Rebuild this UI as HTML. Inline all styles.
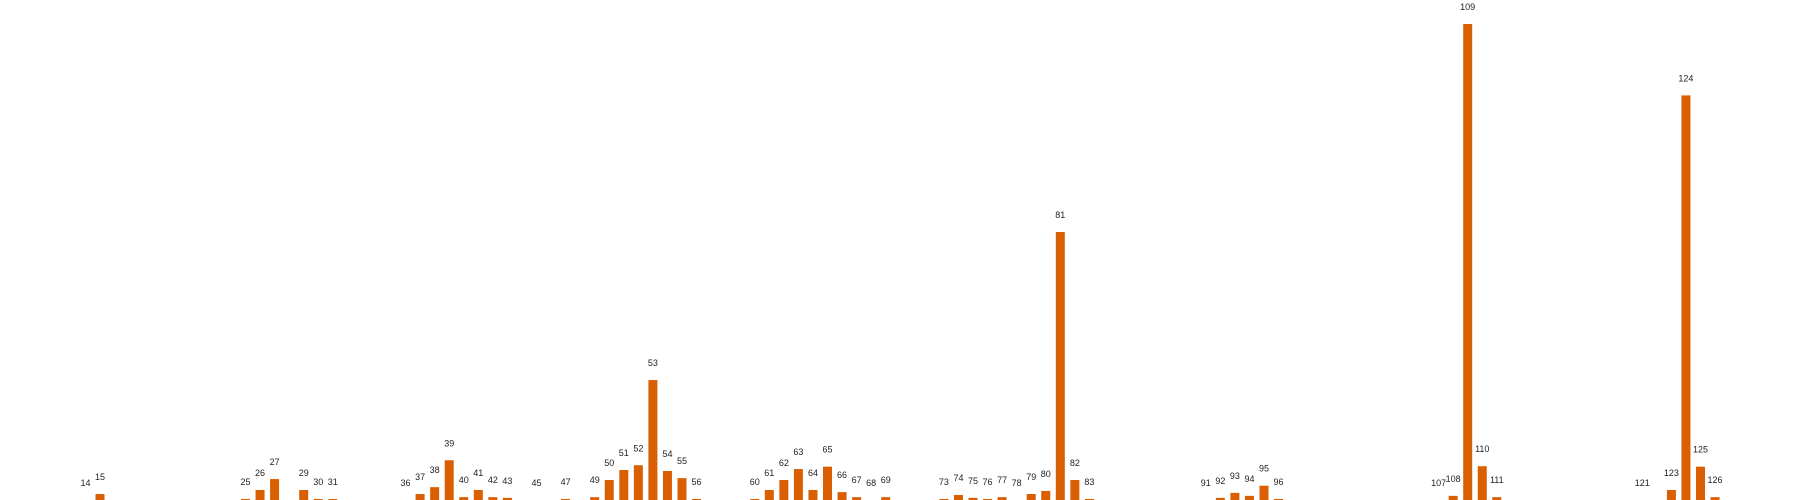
<!DOCTYPE html>
<html><head><meta charset="utf-8"><style>
html,body{margin:0;padding:0;background:#fff;}
svg{display:block;}
text{font-family:"Liberation Sans",sans-serif;font-size:9px;fill:#222;}
</style></head><body>
<svg id="chart" width="1800" height="500" viewBox="0 0 1800 500" xmlns="http://www.w3.org/2000/svg"></svg>
<script>
const categories=[14,15,25,26,27,29,30,31,36,37,38,39,40,41,42,43,45,47,49,50,51,52,53,54,55,56,60,61,62,63,64,65,66,67,68,69,73,74,75,76,77,78,79,80,81,82,83,91,92,93,94,95,96,107,108,109,110,111,121,123,124,125,126];
const values=[0,1.26,0.21,2.1,4.4,2.1,0.21,0.21,0,1.26,2.7,8.35,0.6,2.1,0.6,0.45,0,0.21,0.6,4.2,6.3,7.3,25.2,6.1,4.6,0.21,0.21,2.1,4.2,6.5,2.1,7.0,1.65,0.6,0,0.6,0.21,1.05,0.45,0.21,0.6,0,1.26,1.9,56.3,4.2,0.21,0,0.45,1.5,0.87,3.0,0.21,0,0.87,100,7.1,0.6,0,2.1,85,7.0,0.6];
const labels=categories.map(String);
const svg=document.getElementById('chart');
const NS='http://www.w3.org/2000/svg';
function xScale(c){return 100+(c-15)*14.55;}
function yScale(v){return 500-v*4.76;}
const bw=9;
categories.forEach((c,i)=>{
  const x=xScale(c), y=yScale(values[i]);
  const r=document.createElementNS(NS,'rect');
  r.setAttribute('x',x-bw/2);r.setAttribute('y',y);
  r.setAttribute('width',bw);r.setAttribute('height',500-y);
  r.setAttribute('fill','#d95f02');
  
  
  svg.appendChild(r);
  const t=document.createElementNS(NS,'text');
  t.setAttribute('x',x);t.setAttribute('y',y-14);
  t.setAttribute('text-anchor','middle');
  t.textContent=labels[i];
  
  
  svg.appendChild(t);
});
</script>
</body></html>
